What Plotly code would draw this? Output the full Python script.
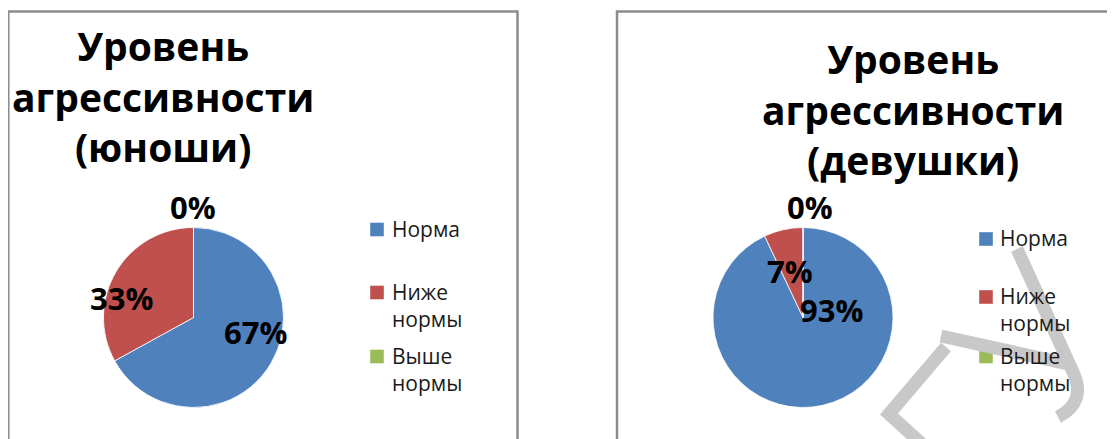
import plotly.graph_objects as go

# ---------------- data ----------------
categories = ["Норма", "Ниже нормы", "Выше нормы"]
legend_texts = ["Норма", "Ниже<br>нормы", "Выше<br>нормы"]
boys_values = [67, 33, 0]
girls_values = [93, 7, 0]
boys_title = "Уровень<br>агрессивности<br>(юноши)"
girls_title = "Уровень<br>агрессивности<br>(девушки)"

# ---------------- style / layout ----------------
W, H = 1115, 439
PAGE_OFFSET = 8          # default body margin of the html page
slice_colors = ["#4F81BD", "#C0504D", "#9BBB59"]
FONT = "Open Sans"
border_color = "#8c8c8c"
R = 90                   # pie radius in px
TITLE_SIZE = 39
LABEL_SIZE = 31
LEGEND_SIZE = 21


def fx(x):
    """page pixel -> paper x"""
    return (x - PAGE_OFFSET) / W


def fy(y):
    """page pixel -> paper y"""
    return 1 - (y - PAGE_OFFSET) / H


panels = [
    dict(values=boys_values, title=boys_title,
         box=(8.3, 517.5), center=(193.5, 317.5), title_x=163, title_mid=96,
         sq_x=377, rows=[229.5, 292.5, 356.5], text_x=391,
         label_pos=[(255, 332), (121, 298), (192.5, 207)]),
    dict(values=girls_values, title=girls_title,
         box=(617, 1140), center=(803, 317.5), title_x=913, title_mid=109,
         sq_x=986, rows=[239, 297, 356.5], text_x=999,
         label_pos=[(831, 310), (790, 271), (809.5, 207)]),
]

fig = go.Figure()
shapes = []
annotations = []

for p in panels:
    cx, cy = p["center"]
    fig.add_trace(go.Pie(
        labels=categories, values=p["values"], sort=False,
        direction="clockwise", rotation=0,
        marker=dict(colors=slice_colors, line=dict(color="white", width=0.8)),
        textinfo="none", hoverinfo="label+percent", showlegend=False,
        domain=dict(x=[fx(cx - R), fx(cx + R)], y=[fy(cy + R), fy(cy - R)]),
    ))
    # chart-area border
    x0, x1 = p["box"]
    shapes.append(dict(type="rect", xref="paper", yref="paper",
                       x0=fx(x0), x1=fx(x1), y0=fy(11.5), y1=fy(H + 40),
                       line=dict(color=border_color, width=2.5), layer="below"))
    # title
    annotations.append(dict(text=p["title"], x=fx(p["title_x"]), y=fy(p["title_mid"]),
                            xref="paper", yref="paper", xanchor="center", yanchor="middle",
                            showarrow=False, align="center",
                            font=dict(family=FONT, size=TITLE_SIZE, color="black", weight=700)))
    # percent labels
    total = sum(p["values"])
    for v, (lx, ly) in zip(p["values"], p["label_pos"]):
        annotations.append(dict(text=f"{round(100 * v / total)}%", x=fx(lx), y=fy(ly),
                                xref="paper", yref="paper", xanchor="center", yanchor="middle",
                                showarrow=False,
                                font=dict(family=FONT, size=LABEL_SIZE, color="black", weight=700)))
    # legend (square + text)
    for color, text, row in zip(slice_colors, legend_texts, p["rows"]):
        s = 6.8
        shapes.append(dict(type="rect", xref="paper", yref="paper",
                           x0=fx(p["sq_x"] - s), x1=fx(p["sq_x"] + s),
                           y0=fy(row + s), y1=fy(row - s),
                           fillcolor=color, line=dict(width=0), layer="above"))
        n_lines = text.count("<br>") + 1
        mid = row - 0.7 + (n_lines - 1) * 1.3 * LEGEND_SIZE / 2
        annotations.append(dict(text=text, x=fx(p["text_x"]), y=fy(mid),
                                xref="paper", yref="paper", xanchor="left", yanchor="middle",
                                showarrow=False, borderpad=0, align="left",
                                font=dict(family=FONT, size=LEGEND_SIZE, color="#1a1a1a")))

# watermark strokes (scan artefact in the reference)
wm = dict(color="#c8c8c8", width=13)


def P(x, y):
    return f"{fx(x):.5f},{fy(y):.5f}"


shapes.append(dict(type="path", xref="paper", yref="paper", layer="above",
                   path=f"M{P(1017, 249)} L{P(1073, 372)} Q{P(1087, 402)} {P(1058, 417)}",
                   line=wm))
shapes.append(dict(type="path", xref="paper", yref="paper", layer="above",
                   path=f"M{P(941, 336)} L{P(1068, 364)}", line=wm))
shapes.append(dict(type="path", xref="paper", yref="paper", layer="above",
                   path=f"M{P(946, 347)} L{P(889, 414)} L{P(945, 465)}", line=wm))

fig.update_layout(
    width=W, height=H,
    margin=dict(l=0, r=0, t=0, b=0),
    paper_bgcolor="white", plot_bgcolor="white",
    shapes=shapes, annotations=annotations,
    showlegend=False,
)

fig.write_html("out.html")
